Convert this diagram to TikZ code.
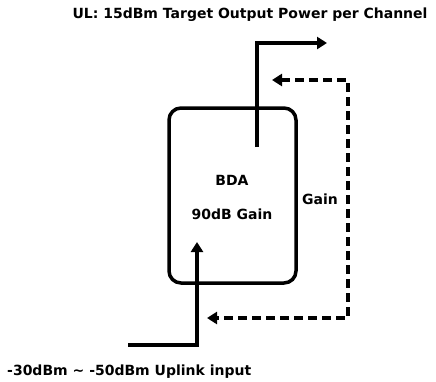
\documentclass[tikz,border=0pt]{standalone}
\usepackage{fontspec}
\setmainfont{DejaVu Sans}
\usetikzlibrary{arrows.meta}

\begin{document}
\begin{tikzpicture}[x=1pt,y=-1pt,
  signal/.style={line width=4pt,-{Triangle[length=10pt,width=12pt]}},
  feedback/.style={line width=3.5pt,dash pattern=on 9pt off 5pt,
    {Triangle[length=10pt,width=12pt]}-{Triangle[length=10pt,width=12pt]}},
  txt/.style={font=\bfseries\fontsize{14}{16}\selectfont,inner sep=0pt}]
\useasboundingbox (0,0) rectangle (436,381);

% -----------------------
% Amplificateur
% -----------------------
\node[draw,line width=3.5pt,rounded corners=12pt,
  minimum width=127pt,minimum height=175pt] (bda) at (232.5,195.5) {};
\node[txt] (bdaname) at (232,180) {BDA};
\node[txt] (bdagain) at (232,214) {90dB Gain};

% -----------------------
% Points des liaisons
% -----------------------
\coordinate (outstart) at (257,147);
\coordinate (outcorner) at (257,43);
\coordinate (outend) at (327,43);
\coordinate (instart) at (128,345);
\coordinate (incorner) at (197,345);
\coordinate (inend) at (197,242);
\coordinate (fbtop) at (272,80);
\coordinate (fbtopright) at (348,80);
\coordinate (fbbotright) at (348,318);
\coordinate (fbbot) at (207,318);

% -----------------------
% Liaisons
% -----------------------
\draw[signal] (outstart) -- (outcorner) -- (outend);
\draw[signal] (instart) -- (incorner) -- (inend);
\draw[feedback] (fbtop) -- (fbtopright) -- (fbbotright) -- (fbbot);

% -----------------------
% Labels
% -----------------------
\node[txt] (gain) at (320,199) {Gain};
\node[txt] (outlabel) at (250,15) {UL: 15dBm Target Output Power per Channel};
\node[txt,anchor=west] (inlabel) at (7,372) {-30dBm \textasciitilde{} -50dBm Uplink input};

\end{tikzpicture}
\end{document}
